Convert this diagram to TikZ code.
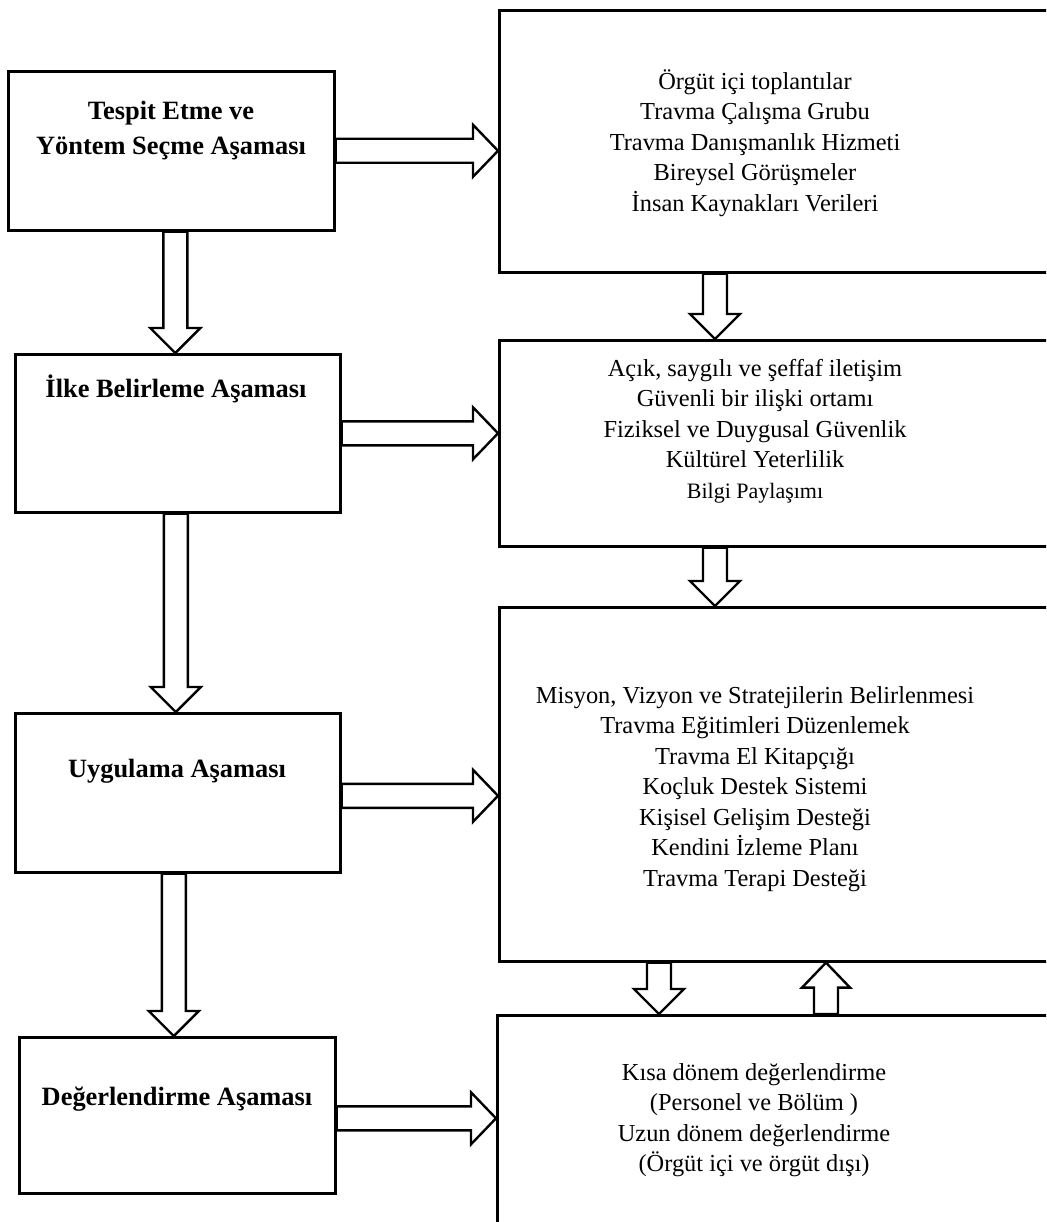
\documentclass[tikz,border=0pt]{standalone}
\usepackage{fontspec}
\setmainfont{Liberation Serif}
\usetikzlibrary{calc}

\tikzset{
  phase/.style={draw, line width=2.6pt, anchor=north west, inner sep=0pt, minimum width=326pt},
  itembox/.style={draw, line width=2.6pt, anchor=north west, inner sep=0pt, minimum width=600pt},
  phasetext/.style={font=\fontsize{26.4}{35}\selectfont\bfseries, align=center},
  itemtext/.style={font=\fontsize{24.4}{30.5}\selectfont, align=center},
  blockarrow/.style={draw, line width=2.4pt, fill=white, line join=miter}
}

\newcommand{\arrdown}[2]{%
  \draw[blockarrow] let \p1=(#1), \p2=(#2) in
    (\x1-12pt,\y1) -- (\x1-12pt,\y2+25pt) -- (\x1-25pt,\y2+25pt) -- (\x1,\y2)
    -- (\x1+25pt,\y2+25pt) -- (\x1+12pt,\y2+25pt) -- (\x1+12pt,\y1) -- cycle;}
\newcommand{\arrup}[2]{%
  \draw[blockarrow] let \p1=(#1), \p2=(#2) in
    (\x1-12pt,\y1) -- (\x1-12pt,\y2-25pt) -- (\x1-24pt,\y2-25pt) -- (\x1,\y2)
    -- (\x1+24pt,\y2-25pt) -- (\x1+12pt,\y2-25pt) -- (\x1+12pt,\y1) -- cycle;}
\newcommand{\arrright}[2]{%
  \draw[blockarrow] let \p1=(#1), \p2=(#2) in
    (\x1,\y1+12pt) -- (\x2-25pt,\y1+12pt) -- (\x2-25pt,\y1+26pt) -- (\x2,\y1)
    -- (\x2-25pt,\y1-26pt) -- (\x2-25pt,\y1-12pt) -- (\x1,\y1-12pt) -- cycle;}

\begin{document}
\begin{tikzpicture}[x=1pt, y=-1pt]
  \path[use as bounding box] (0,0) rectangle (1046,1222);
  \clip (0,0) rectangle (1046,1222);

  % left column
  \node[phase, minimum height=159pt] (b1) at (7,70) {};
  \node[phase, minimum width=325pt, minimum height=158pt] (b2) at (14,353) {};
  \node[phase, minimum width=325pt, minimum height=159pt] (b3) at (14,712) {};
  \node[phase, minimum width=316pt, minimum height=156pt] (b4) at (18,1036) {};

  \node[phasetext] (t1) at (171,131) {Tespit Etme ve\\Yöntem Seçme Aşaması};
  \node[phasetext, anchor=base] (t2) at (176,397) {İlke Belirleme Aşaması};
  \node[phasetext, anchor=base] (t3) at (177,777) {Uygulama Aşaması};
  \node[phasetext, anchor=base] (t4) at (177,1105) {Değerlendirme Aşaması};

  % right column
  \node[itembox, minimum height=262pt] (r1) at (498,9) {};
  \node[itembox, minimum height=206pt] (r2) at (498,339) {};
  \node[itembox, minimum height=354pt] (r3) at (498,606) {};
  \node[itembox, minimum height=260pt] (r4) at (496,1014) {};

  \node[itemtext] (rt1) at (755,143) {Örgüt içi toplantılar\\Travma Çalışma Grubu\\
    Travma Danışmanlık Hizmeti\\Bireysel Görüşmeler\\İnsan Kaynakları Verileri};
  \node[itemtext] (rt2) at (755,431) {Açık, saygılı ve şeffaf iletişim\\Güvenli bir ilişki ortamı\\
    Fiziksel ve Duygusal Güvenlik\\Kültürel Yeterlilik\\{\fontsize{22}{30.5}\selectfont Bilgi Paylaşımı}};
  \node[itemtext] (rt3) at (755,789) {Misyon, Vizyon ve Stratejilerin Belirlenmesi\\
    Travma Eğitimleri Düzenlemek\\Travma El Kitapçığı\\Koçluk Destek Sistemi\\
    Kişisel Gelişim Desteği\\Kendini İzleme Planı\\Travma Terapi Desteği};
  \node[itemtext] (rt4) at (754,1120) {Kısa dönem değerlendirme\\(Personel ve Bölüm )\\
    Uzun dönem değerlendirme\\(Örgüt içi ve örgüt dışı)};

  % arrows
  \arrdown{$(b1.south)+(4,0)$}{b2.north}
  \arrdown{$(b2.south)+(-2,0)$}{b3.north}
  \arrdown{$(b3.south)+(-4,0)$}{b4.north}

  \arrright{b1.east}{r1.west}
  \arrright{b2.east}{r2.west}
  \arrright{$(b3.east)+(0,3)$}{r3.west}
  \arrright{$(b4.east)+(0,3)$}{r4.west}

  \arrdown{$(r1.south west)+(217,0)$}{r2.north}
  \arrdown{$(r2.south west)+(217,0)$}{r3.north}
  \arrdown{$(r3.south west)+(161,0)$}{r4.north}
  \arrup{$(r4.north west)+(330,0)$}{r3.south}
\end{tikzpicture}
\end{document}
